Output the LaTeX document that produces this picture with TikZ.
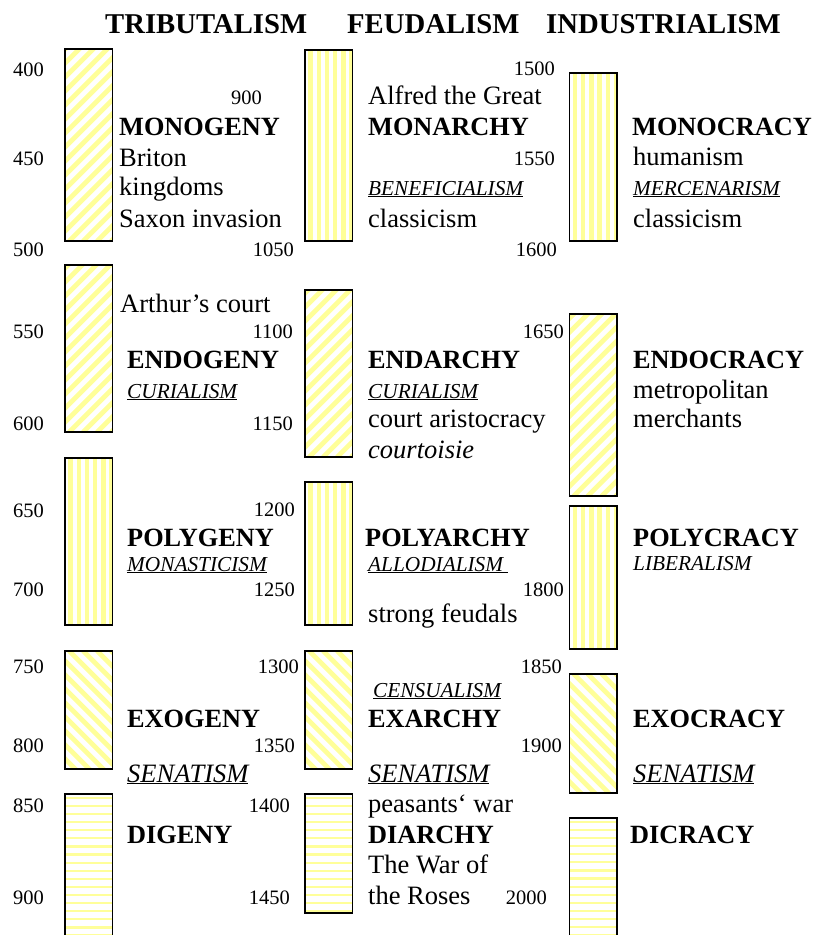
\documentclass[tikz,border=0pt]{standalone}
\usepackage{fontspec}
\setmainfont{Liberation Serif}
\definecolor{stripeyellow}{RGB}{255,255,153}
\begin{document}
\begin{tikzpicture}[x=1pt,y=-1pt,
  bar/.style={rectangle, draw=black, line width=1.6pt, anchor=north west,
    inner sep=0pt, outer sep=0pt, minimum width=47.4pt},
  vstripes/.style={bar, path picture={
    \foreach \k in {0,...,6}
      \draw[stripeyellow, line width=4.5pt]
        ([xshift=5.5pt+8.2pt*\k]path picture bounding box.south west) --
        ([xshift=5.5pt+8.2pt*\k]path picture bounding box.north west);}},
  nestripes/.style={bar, path picture={
    \foreach \k in {-16,...,4}
      \draw[stripeyellow, line width=4.8pt]
        ([xshift=4pt+14pt*\k]path picture bounding box.south west) -- ++(300,-300);}},
  nwstripes/.style={bar, path picture={
    \foreach \k in {-16,...,4}
      \draw[stripeyellow, line width=4.8pt]
        ([xshift=4pt+14pt*\k]path picture bounding box.north west) -- ++(300,300);}},
  hstripes/.style={bar, path picture={
    \foreach \k in {0,...,24}
      \draw[stripeyellow, line width=2.2pt]
        ([yshift=-4pt-8.1pt*\k]path picture bounding box.north west) --
        ([yshift=-4pt-8.1pt*\k]path picture bounding box.north east);}},
  txt/.style={anchor=base west, inner sep=0pt, font=\fontsize{26.5}{30}\selectfont},
  hd/.style={anchor=base west, inner sep=0pt, font=\fontsize{28.7}{32}\selectfont\bfseries},
  nm/.style={txt, font=\fontsize{26.3}{30}\selectfont\bfseries},
  it/.style={txt, font=\fontsize{26.5}{30}\selectfont\itshape},
  sm/.style={txt, font=\fontsize{21.3}{24}\selectfont\itshape},
  yr/.style={anchor=base east, inner sep=0pt, font=\fontsize{20.5}{22}\selectfont}
]
\useasboundingbox (0,0) rectangle (817,935);
\clip (0,0) rectangle (817,935);

% column headings
\node[hd] (hTrib) at (105,33) {TRIBUTALISM};
\node[hd] (hFeud) at (347,33) {FEUDALISM};
\node[hd] (hInd)  at (546,33) {INDUSTRIALISM};

% period bars, tributalism
\node[nestripes, minimum height=192.4pt] (t1) at (65.1,48.8) {};
\node[nestripes, minimum height=167.4pt] (t2) at (65.1,264.8) {};
\node[vstripes,  minimum height=167.4pt] (t3) at (65.1,457.8) {};
\node[nwstripes, minimum height=118.4pt] (t4) at (65.1,650.8) {};
\node[hstripes,  minimum height=170pt]   (t5) at (65.1,793.8) {};

% period bars, feudalism
\node[vstripes,  minimum height=191.4pt] (f1) at (305.1,49.8) {};
\node[nestripes, minimum height=167.4pt] (f2) at (305.1,289.8) {};
\node[vstripes,  minimum height=143.4pt] (f3) at (305.1,481.8) {};
\node[nwstripes, minimum height=118.4pt] (f4) at (305.1,650.8) {};
\node[hstripes,  minimum height=119.4pt] (f5) at (305.1,793.8) {};

% period bars, industrialism
\node[vstripes,  minimum height=168.4pt] (i1) at (569.5,72.8) {};
\node[nestripes, minimum height=182.4pt] (i2) at (569.5,313.8) {};
\node[vstripes,  minimum height=143.4pt] (i3) at (569.5,505.8) {};
\node[nwstripes, minimum height=119.4pt] (i4) at (569.5,673.8) {};
\node[hstripes,  minimum height=150pt]   (i5) at (569.5,817.8) {};

% year scale, left
\node[yr] (y400) at (44,76) {400};
\node[yr] (y450) at (44,165) {450};
\node[yr] (y500) at (44,256) {500};
\node[yr] (y550) at (44,338) {550};
\node[yr] (y600) at (44,430) {600};
\node[yr] (y650) at (44,517) {650};
\node[yr] (y700) at (44,596) {700};
\node[yr] (y750) at (44,673) {750};
\node[yr] (y800) at (44,752) {800};
\node[yr] (y850) at (44,812) {850};
\node[yr] (y900) at (44,904) {900};

% year scale, middle
\node[yr] (y0900) at (262,104) {900};
\node[yr] (y1050) at (294,256) {1050};
\node[yr] (y1100) at (293,338) {1100};
\node[yr] (y1150) at (293,430) {1150};
\node[yr] (y1200) at (295,516) {1200};
\node[yr] (y1250) at (295,596) {1250};
\node[yr] (y1300) at (299,673) {1300};
\node[yr] (y1350) at (295,752) {1350};
\node[yr] (y1400) at (290,812) {1400};
\node[yr] (y1450) at (290,904) {1450};

% year scale, right
\node[yr] (y1500) at (555,75) {1500};
\node[yr] (y1550) at (555,165) {1550};
\node[yr] (y1600) at (557,256) {1600};
\node[yr] (y1650) at (564,338) {1650};
\node[yr] (y1800) at (564,596) {1800};
\node[yr] (y1850) at (562,673) {1850};
\node[yr] (y1900) at (562,752) {1900};
\node[yr] (y2000) at (547,904) {2000};

% tributalism labels
\node[nm]  (tMono)   at (119,135) {MONOGENY};
\node[txt] (tBriton) at (119,166) {Briton};
\node[txt] (tKing)   at (119,195) {kingdoms};
\node[txt] (tSaxon)  at (119,227) {Saxon invasion};
\node[txt] (tArthur) at (120,312) {Arthur’s court};
\node[nm]  (tEndo)   at (127,368) {ENDOGENY};
\node[sm]  (tCur)    at (127,398) {\underline{CURIALISM}};
\node[nm]  (tPoly)   at (127,546) {POLYGENY};
\node[sm]  (tMonast) at (127,571) {\underline{MONASTICISM}};
\node[nm]  (tExo)    at (127,727) {EXOGENY};
\node[it]  (tSen)    at (127,782) {\underline{SENATISM}};
\node[nm]  (tDi)     at (127,843) {DIGENY};

% feudalism labels
\node[txt] (fAlfred) at (368,104) {Alfred the Great};
\node[nm]  (fMono)   at (368,135) {MONARCHY};
\node[sm]  (fBenef)  at (368,195) {\underline{BENEFICIALISM}};
\node[txt] (fClass)  at (368,227) {classicism};
\node[nm]  (fEnd)    at (368,368) {ENDARCHY};
\node[sm]  (fCur)    at (368,398) {\underline{CURIALISM}};
\node[txt] (fCourt)  at (368,427) {court aristocracy};
\node[it]  (fCourt2) at (368,458) {courtoisie};
\node[nm]  (fPoly)   at (365,546) {POLYARCHY};
\node[sm]  (fAllod)  at (368,571) {\underline{ALLODIALISM\ }};
\node[txt] (fStrong) at (368,622) {strong feudals};
\node[sm]  (fCens)   at (373,697) {\underline{CENSUALISM}};
\node[nm]  (fExo)    at (368,727) {EXARCHY};
\node[it]  (fSen)    at (368,782) {\underline{SENATISM}};
\node[txt] (fPeas)   at (368,812) {peasants‘ war};
\node[nm]  (fDi)     at (368,843) {DIARCHY};
\node[txt] (fWar)    at (368,873) {The War of};
\node[txt] (fRoses)  at (368,904) {the Roses};

% industrialism labels
\node[nm]  (iMono)   at (632,135) {MONOCRACY};
\node[txt] (iHuman)  at (633,165) {humanism};
\node[sm]  (iMerc)   at (633,195) {\underline{MERCENARISM}};
\node[txt] (iClass)  at (633,227) {classicism};
\node[nm]  (iEndo)   at (633,368) {ENDOCRACY};
\node[txt] (iMetro)  at (633,398) {metropolitan};
\node[txt] (iMerch)  at (633,427) {merchants};
\node[nm]  (iPoly)   at (633,546) {POLYCRACY};
\node[sm]  (iLib)    at (633,570) {LIBERALISM};
\node[nm]  (iExo)    at (633,727) {EXOCRACY};
\node[it]  (iSen)    at (633,782) {\underline{SENATISM}};
\node[nm]  (iDi)     at (630,843) {DICRACY};
\end{tikzpicture}
\end{document}
